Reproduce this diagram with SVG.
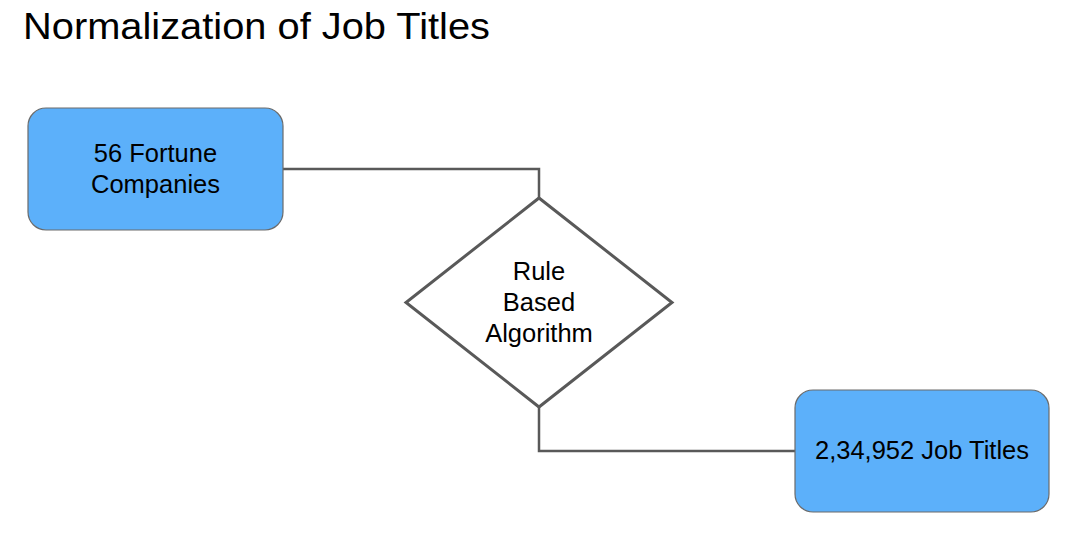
<svg xmlns="http://www.w3.org/2000/svg" width="1077" height="534" viewBox="0 0 1077 534">
<style>
.box{fill:#5cb0fa;stroke:#6b6b6b;stroke-width:1.2}
.dia{fill:#ffffff;stroke:#595959;stroke-width:3}
.con{fill:none;stroke:#595959;stroke-width:2.5}
.lbl{font-family:"Liberation Sans",Arial,sans-serif;font-size:25.5px;fill:#000;text-anchor:middle}
.title{font-family:"Liberation Sans",Arial,sans-serif;font-size:37px;fill:#000}
</style>
<rect width="1077" height="534" fill="#ffffff"/>
<text class="title" x="23" y="39" textLength="467" lengthAdjust="spacingAndGlyphs">Normalization of Job Titles</text>
<g id="connectors">
<polyline class="con" points="283,169 539,169 539,198"/>
<polyline class="con" points="539,407 539,451 795,451"/>
</g>
<g id="node-companies">
<rect class="box" x="28" y="108" width="255" height="122" rx="18" ry="18"/>
<text class="lbl" x="155.5" y="162">56 Fortune</text>
<text class="lbl" x="155.5" y="193">Companies</text>
</g>
<g id="node-algorithm">
<polygon class="dia" points="539,198 672,302.5 539,407 406,302.5"/>
<text class="lbl" x="539" y="280">Rule</text>
<text class="lbl" x="539" y="311">Based</text>
<text class="lbl" x="539" y="342">Algorithm</text>
</g>
<g id="node-jobtitles">
<rect class="box" x="795" y="390" width="254" height="122" rx="18" ry="18"/>
<text class="lbl" x="922" y="459">2,34,952 Job Titles</text>
</g>
</svg>
